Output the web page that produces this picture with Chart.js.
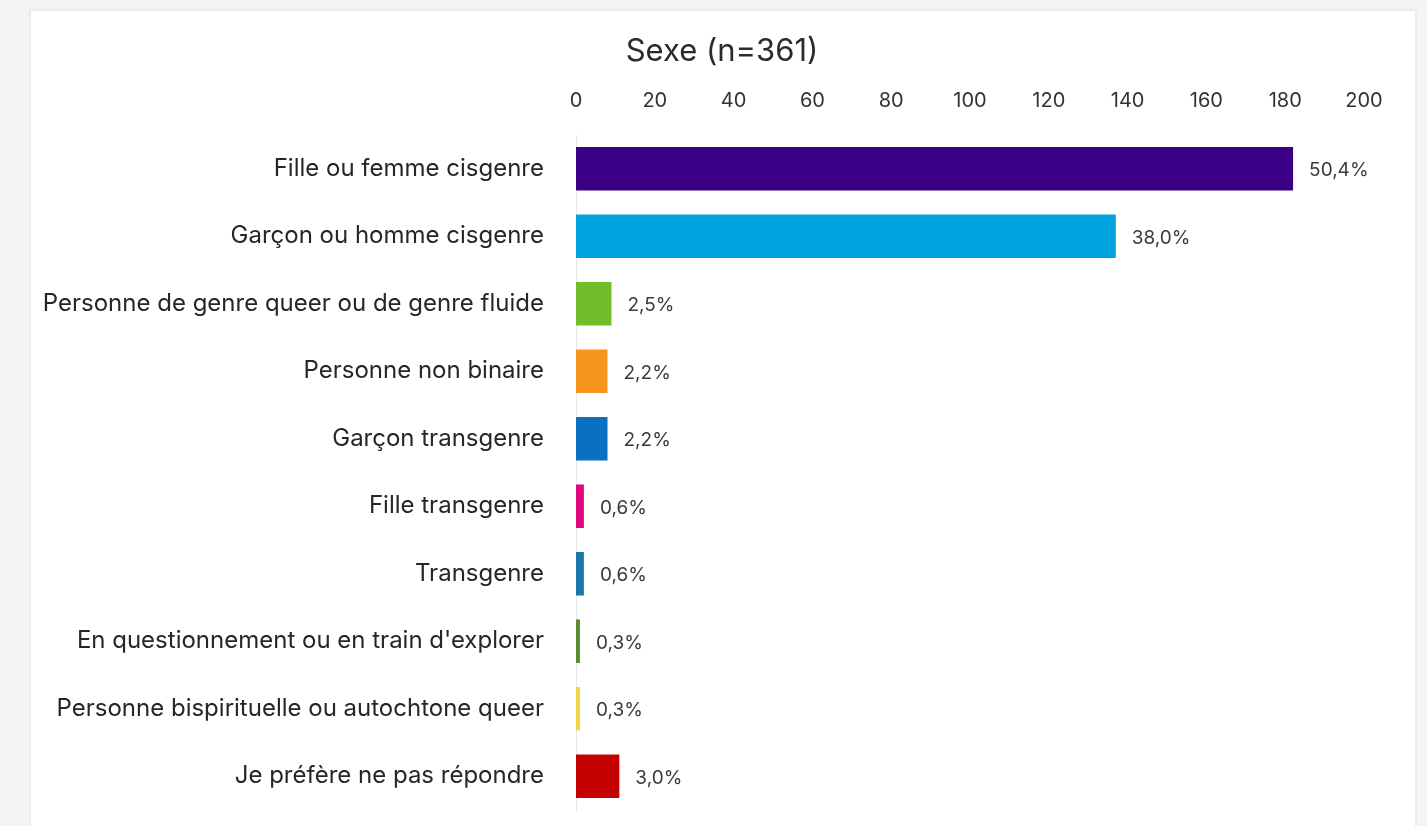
<!DOCTYPE html>
<html>
<head>
<meta charset="utf-8">
<script src="https://cdn.jsdelivr.net/npm/chart.js@4/dist/chart.umd.min.js"></script>
<style>
  html, body { margin: 0; padding: 0; background: #f4f4f4; overflow: hidden; }
  .frame {
    position: absolute; left: 29px; top: 9px; width: 1388px; height: 830px;
    background: #fff; border: 2px solid #ececec; box-sizing: border-box;
  }
  .wrap { position: absolute; left: 0; top: 0; width: 1427px; height: 826px; }
</style>
</head>
<body>
<div class="frame"></div>
<div class="wrap"><canvas id="chart"></canvas></div>
<script>
const categories = [
  "Fille ou femme cisgenre",
  "Garçon ou homme cisgenre",
  "Personne de genre queer ou de genre fluide",
  "Personne non binaire",
  "Garçon transgenre",
  "Fille transgenre",
  "Transgenre",
  "En questionnement ou en train d'explorer",
  "Personne bispirituelle ou autochtone queer",
  "Je préfère ne pas répondre",
];
const counts = [182, 137, 9, 8, 8, 2, 2, 1, 1, 11];
const percents = ["50,4%", "38,0%", "2,5%", "2,2%", "2,2%", "0,6%", "0,6%", "0,3%", "0,3%", "3,0%"];
const barColors = [
  "#3c0087", "#00a3de", "#72be2a", "#f7941d", "#0a70c0",
  "#e0087e", "#1a78a8", "#5c8a2e", "#f3d54a", "#c40000",
];
const xTicks = [0, 20, 40, 60, 80, 100, 120, 140, 160, 180, 200];

// percentage text just after the end of each bar
const valueLabels = {
  id: "valueLabels",
  afterDatasetsDraw(chart) {
    const { ctx } = chart;
    const meta = chart.getDatasetMeta(0);
    ctx.save();
    ctx.font = "19px Inter, sans-serif";
    ctx.fillStyle = "#3a3a3a";
    ctx.textAlign = "left";
    ctx.textBaseline = "middle";
    meta.data.forEach((bar, i) => {
      ctx.fillText(percents[i], bar.x + 16, bar.y + 2);
    });
    ctx.restore();
  },
};

// centre the title on the white card rather than the whole canvas
const titleShift = {
  id: "titleShift",
  afterLayout(chart) {
    if (chart.titleBlock) {
      chart.titleBlock.left = 80;
    }
  },
};

new Chart(document.querySelector("#chart"), {
  type: "bar",
  data: {
    labels: categories,
    datasets: [
      {
        data: counts,
        backgroundColor: barColors,
        categoryPercentage: 0.645,
        barPercentage: 1,
      },
    ],
  },
  options: {
    indexAxis: "y",
    responsive: true,
    maintainAspectRatio: false,
    animation: false,
    layout: { padding: { left: 0, right: 63, top: 0, bottom: 16 } },
    plugins: {
      legend: { display: false },
      tooltip: { enabled: false },
      title: {
        display: true,
        text: "Sexe (n=361)",
        color: "#2b2b2b",
        font: { family: "Inter, sans-serif", size: 31, weight: "normal" },
        padding: { top: 33, bottom: 0 },
      },
    },
    scales: {
      x: {
        position: "top",
        min: 0,
        max: 200,
        afterBuildTicks(scale) {
          scale.ticks = xTicks.map((value) => ({ value }));
        },
        afterFit(scale) {
          scale.height = 64.8;
        },
        grid: { display: false, drawTicks: false },
        border: { display: false },
        ticks: {
          padding: 22,
          color: "#333",
          font: { family: "Inter, sans-serif", size: 20 },
        },
      },
      y: {
        afterFit(scale) {
          scale.width = 576;
          scale.paddingTop = 0;
          scale.paddingBottom = 0;
        },
        grid: { display: false, drawTicks: false },
        border: { display: true, color: "#e4e7ef", width: 1 },
        ticks: {
          padding: 32,
          color: "#262626",
          font: { family: "Inter, sans-serif", size: 24 },
        },
      },
    },
  },
  plugins: [valueLabels, titleShift],
});
</script>
</body>
</html>
